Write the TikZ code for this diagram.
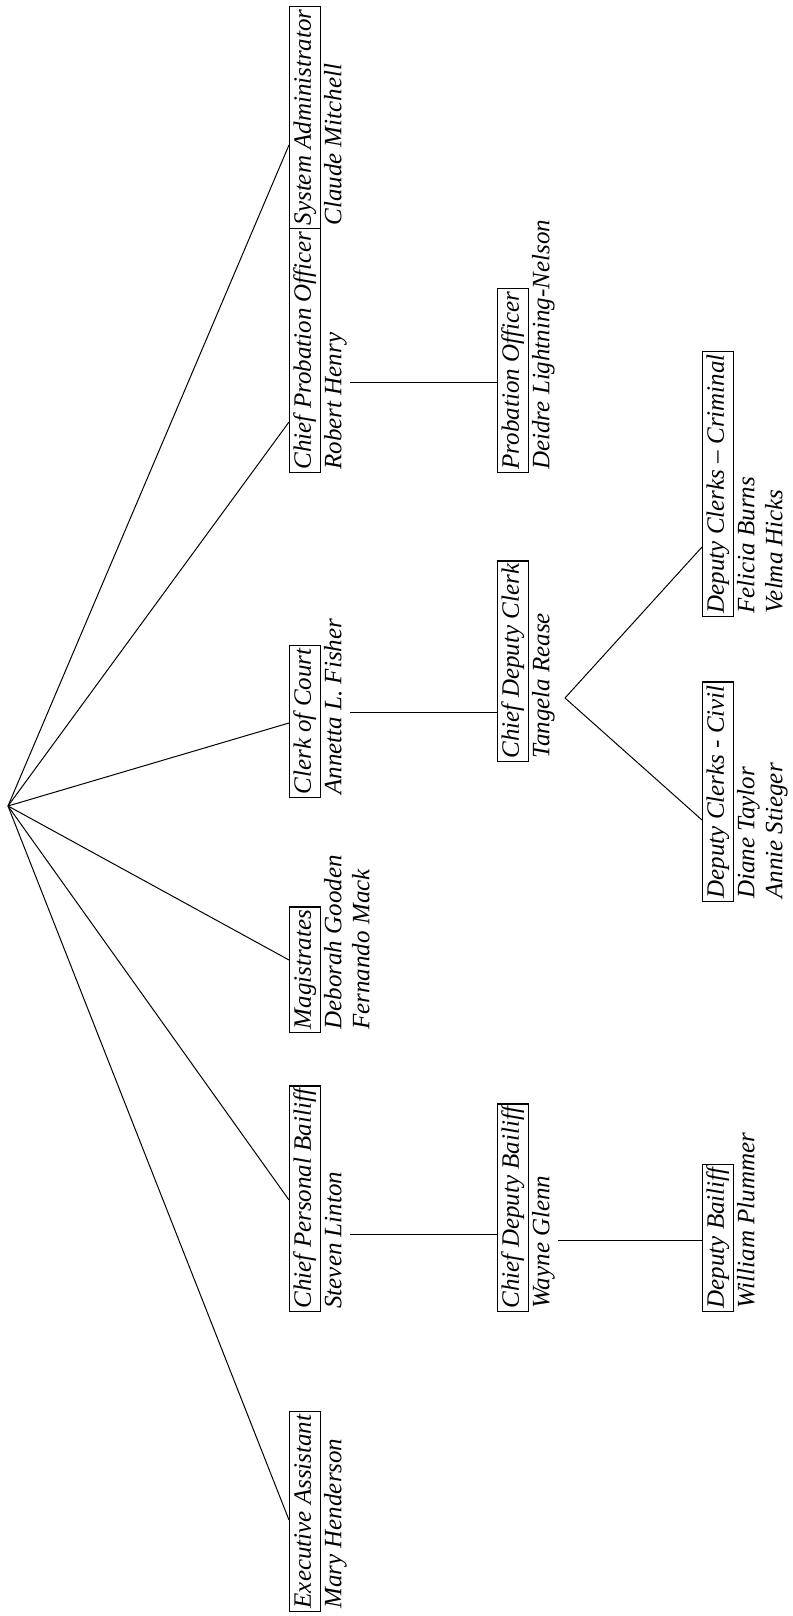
\documentclass[tikz,border=0pt]{standalone}
\usepackage{fontspec}
\setmainfont{Liberation Serif}
\usepackage{tikz}
\newcommand{\orgfont}{\fontsize{12.5}{14}\selectfont\itshape}

\begin{document}
\begin{tikzpicture}[x=0.5pt,y=-0.5pt,
    post/.style={draw,line width=0.7pt,rotate=90,anchor=north west,
      inner xsep=1.5pt,inner ysep=0.75pt,font=\orgfont},
    staff/.style={rotate=90,anchor=north west,align=left,
      inner xsep=1.5pt,inner ysep=0pt,font=\orgfont},
    link/.style={line width=0.5pt}]
    \fill[white] (0,0) rectangle (792,1616);
    \useasboundingbox (0,0) rectangle (792,1616);
    \coordinate (judge) at (8,806);

    % first row
    \node[post] (sa) at (289,229) {\strut System Administrator};
    \node[staff] (cm) at (sa.south west) {\strut Claude Mitchell};
    \node[post] (cpo) at (289,473) {\strut Chief Probation Officer};
    \node[staff] (rh) at (cpo.south west) {\strut Robert Henry};
    \node[post] (cc) at (289,798) {\strut Clerk of Court};
    \node[staff] (af) at (cc.south west) {\strut Annetta L.\ Fisher};
    \node[post] (mg) at (289,1033) {\strut Magistrates};
    \node[staff] (dg) at (mg.south west) {\strut Deborah Gooden\\\strut Fernando Mack};
    \node[post] (cpb) at (289,1312) {\strut Chief Personal Bailiff};
    \node[staff] (sl) at (cpb.south west) {\strut Steven Linton};
    \node[post] (ea) at (289,1612) {\strut Executive Assistant};
    \node[staff] (mh) at (ea.south west) {\strut Mary Henderson};

    % second row
    \node[post] (po) at (497,473) {\strut Probation Officer};
    \node[staff] (dl) at (po.south west) {\strut Deidre Lightning-Nelson};
    \node[post] (cdc) at (497,762) {\strut Chief Deputy Clerk};
    \node[staff] (tr) at (cdc.south west) {\strut Tangela Rease};
    \node[post] (cdb) at (497,1312) {\strut Chief Deputy Bailiff};
    \node[staff] (wg) at (cdb.south west) {\strut Wayne Glenn};

    % third row
    \node[post] (dcc) at (702,617) {\strut Deputy Clerks -- Criminal};
    \node[staff] (fb) at (dcc.south west) {\strut Felicia Burns\\\strut Velma Hicks};
    \node[post] (dcv) at (702,902) {\strut Deputy Clerks - Civil};
    \node[staff] (dt) at (dcv.south west) {\strut Diane Taylor\\\strut Annie Stieger};
    \node[post] (db) at (702,1312) {\strut Deputy Bailiff};
    \node[staff] (wp) at (db.south west) {\strut William Plummer};

    \foreach \n/\y in {sa/145,cpo/422,cc/723,mg/960,cpb/1200,ea/1520}
      \draw[link] (judge) -- (\n.north |- 0,\y);

    \draw[link] (rh.south |- 0,382) -- (po.north |- 0,382);
    \draw[link] (af.south |- 0,712) -- (cdc.north |- 0,712);
    \draw[link] (sl.south |- 0,1234) -- (cdb.north |- 0,1234);
    \draw[link] (wg.south |- 0,1240) -- (db.north |- 0,1240);
    \coordinate (fork) at (565,698);
    \draw[link] (fork) -- (dcc.north |- 0,547);
    \draw[link] (fork) -- (dcv.north |- 0,820);
   \end{tikzpicture}
\end{document}
